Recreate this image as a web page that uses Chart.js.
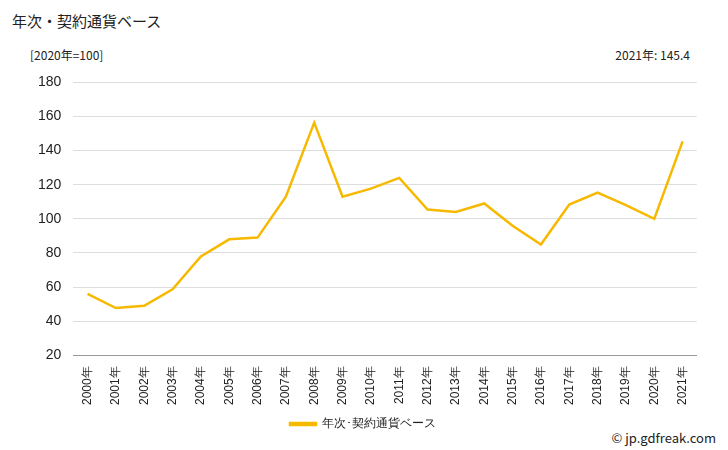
<!DOCTYPE html>
<html>
<head>
<meta charset="utf-8">
<script src="https://cdn.jsdelivr.net/npm/chart.js"></script>
<style>
  body { margin:0; width:728px; height:450px; background:#fff; font-family:"Noto Sans CJK JP","Noto Sans",sans-serif; position:relative; overflow:hidden; }
  #wrap { position:absolute; left:20px; top:62px; width:680px; height:378px; }
  .t { position:absolute; color:#222; }
</style>
</head>
<body>
<div class="t" style="left:12px;top:10px;font-size:15px;">年次・契約通貨ベース</div>
<div class="t" style="left:30px;top:46px;font-size:12px;">[2020年=100]</div>
<div class="t" style="right:38px;top:46px;font-size:12px;">2021年: 145.4</div>
<div class="t" style="right:12px;top:428px;font-size:13px;">© jp.gdfreak.com</div>
<div id="wrap"><canvas id="c"></canvas></div>
<script>
var years = ['2000年','2001年','2002年','2003年','2004年','2005年','2006年','2007年','2008年','2009年','2010年','2011年','2012年','2013年','2014年','2015年','2016年','2017年','2018年','2019年','2020年','2021年'];
var values = [56, 47.7, 49, 58.7, 78, 88, 89, 113, 156.4, 113, 117.7, 124, 105.5, 104, 109, 96, 85, 108.4, 115.4, 108, 100, 145.4];

new Chart(document.getElementById('c'), {
  type: 'line',
  data: {
    labels: years,
    datasets: [{ label: '年次･契約通貨ベース', data: values, borderColor: '#f7b900', backgroundColor: '#f7b900', borderWidth: 2.5, pointRadius: 0, tension: 0 }]
  },
  options: {
    responsive: true, maintainAspectRatio: false, animation: false,
    layout: { padding: { top: 5, right: 0, left: 6 } },
    scales: {
      x: { offset: true, grid: { display: false }, border: { color: '#999' },
           ticks: { color: '#222', font: { size: 12 }, maxRotation: 90, minRotation: 90, autoSkip: false } },
      y: { min: 20, max: 180, grid: { color: '#ddd', drawTicks: false }, border: { display: false },
           ticks: { stepSize: 20, color: '#222', font: { size: 14 }, padding: 12 } }
    },
    plugins: {
      legend: { position: 'bottom', labels: { boxWidth: 26, boxHeight: 2, color: '#222', font: { size: 12 } } },
      tooltip: { enabled: false }
    }
  }
});
</script>
</body>
</html>
